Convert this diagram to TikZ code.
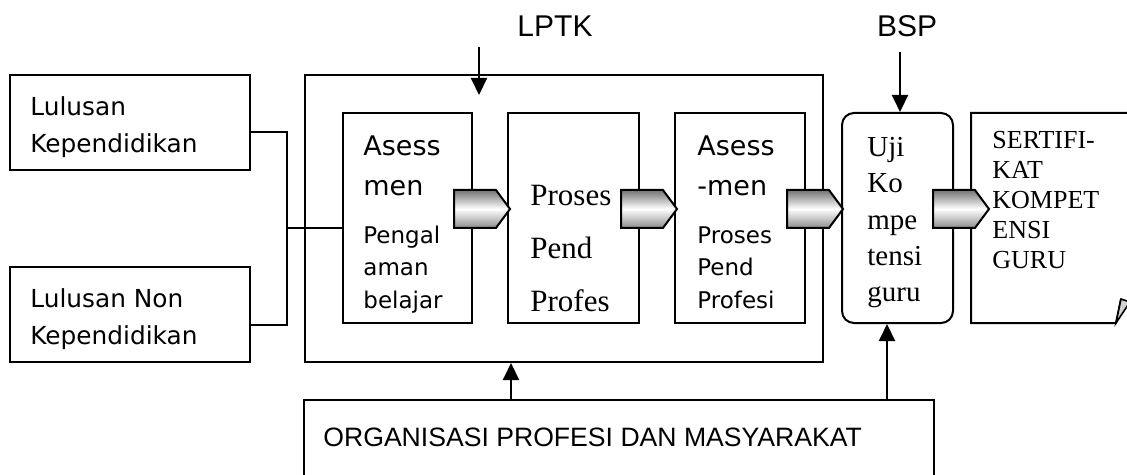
\documentclass[tikz,border=0pt]{standalone}
\usepackage{fontspec}
\setmainfont{Liberation Serif}
\setsansfont{DejaVu Sans}
\newfontfamily\arialfont{Liberation Sans}
\usetikzlibrary{arrows.meta,shapes.symbols}

\tikzset{
  box/.style={draw,line width=1pt,inner sep=0pt},
  arr/.style={-{Triangle[length=8.5pt,width=8pt]},line width=1pt},
  flow/.style={signal,signal to=east,signal pointer angle=107,draw,line width=1pt,
    minimum width=28pt,minimum height=19pt,inner sep=0pt,
    top color=black!55,bottom color=black!45,middle color=white},
  txt/.style={anchor=north west,inner sep=0pt,align=left},
}

\begin{document}
\begin{tikzpicture}[x=0.5pt,y=-0.5pt,>=Triangle]
  \useasboundingbox (0,0) rectangle (1127,475);
  \clip (0,0) rectangle (1127,475);
  % boxes
  \node[box,minimum width=120pt,minimum height=47.5pt] (lk1) at (130,122.5) {};
  \node[box,minimum width=120pt,minimum height=47.5pt] (lk2) at (130,314.5) {};
  \node[box,minimum width=259pt,minimum height=143.5pt] (lptk) at (564,218.5) {};
  \node[box,minimum width=64.5pt,minimum height=105pt] (a1) at (407.5,218) {};
  \node[box,minimum width=65.5pt,minimum height=105pt] (a2) at (573.5,218) {};
  \node[box,minimum width=65pt,minimum height=105pt] (a3) at (740,218) {};
  \node[box,rounded corners=6pt,minimum width=55.5pt,minimum height=105pt] (uji) at (897.5,218) {};
  \node[box,minimum width=315pt,minimum height=55pt] (org) at (619,455) {};
  \draw[line width=1pt] (1135,113) -| (971,323) -- (1116,323) -- (1121,299);
  \draw[line width=0.8pt,fill=gray!35] (1116,323) -- (1121,299) -- (1130,302) -- cycle;
  % texts
  \node[txt,font=\sffamily\fontsize{12.4}{18.5}\selectfont] (lk1txt) at (30,96) {Lulusan\\Kependidikan};
  \node[txt,font=\sffamily\fontsize{12.4}{18.5}\selectfont] (lk2txt) at (30,288) {Lulusan Non\\Kependidikan};
  \node[txt,font=\sffamily\fontsize{13.5}{20}\selectfont] (a1big) at (363,135) {Asess\\men};
  \node[txt,font=\sffamily\fontsize{11.5}{16.25}\selectfont] (a1small) at (363,225.5) {Pengal\\aman\\belajar};
  \node[txt,font=\fontsize{15.5}{26.5}\selectfont] (a2txt) at (530,184.5) {Proses\\Pend\\Profes};
  \node[txt,font=\sffamily\fontsize{13.5}{20}\selectfont] (a3big) at (697,135) {Asess\\-men};
  \node[txt,font=\sffamily\fontsize{11.5}{16.25}\selectfont] (a3small) at (697,226) {Proses\\Pend\\Profesi};
  \node[txt,font=\fontsize{14.5}{18.1}\selectfont] (ujitxt) at (867,137) {Uji\\Ko\\mpe\\tensi\\guru};
  \node[txt,font=\fontsize{13}{15}\selectfont] (cert) at (992,130.4) {SERTIFI-\\KAT\\KOMPET\\ENSI\\GURU};
  \node[anchor=base,inner sep=0pt,font=\arialfont\fontsize{15}{18}\selectfont] (lptklbl) at (555,37) {LPTK};
  \node[anchor=base,inner sep=0pt,font=\arialfont\fontsize{15}{18}\selectfont] (bsplbl) at (907,37) {BSP};
  \node[anchor=base west,inner sep=0pt,font=\arialfont\fontsize{13.3}{16}\selectfont] (orgtxt) at (323,446) {ORGANISASI PROFESI DAN MASYARAKAT};
  % connectors
  \coordinate (j) at (287,228);
  \draw[line width=1pt] ([yshift=-4.75pt]lk1.east) -| (j) |- ([yshift=-5.25pt]lk2.east);
  \draw[line width=1pt] (j) -- (a1.west |- j);
  \coordinate (lptkin) at (479,47);
  \coordinate (lptkend) at (479,95);
  \draw[arr] (lptkin) -- (lptkend);
  \coordinate (bspin) at (900,52);
  \draw[arr] (bspin) -- (bspin |- uji.north);
  \draw[arr] (org.north -| 887,0) -- (uji.south -| 887,0);
  \draw[arr] (org.north -| 511,0) -- (lptk.south -| 511,0);
  % flow arrows
  \node[flow,anchor=west] (f1) at (453,209) {};
  \node[flow,anchor=west] (f2) at (620,209) {};
  \node[flow,anchor=west] (f3) at (786,209) {};
  \node[flow,anchor=west] (f4) at (932,209) {};
\end{tikzpicture}
\end{document}
